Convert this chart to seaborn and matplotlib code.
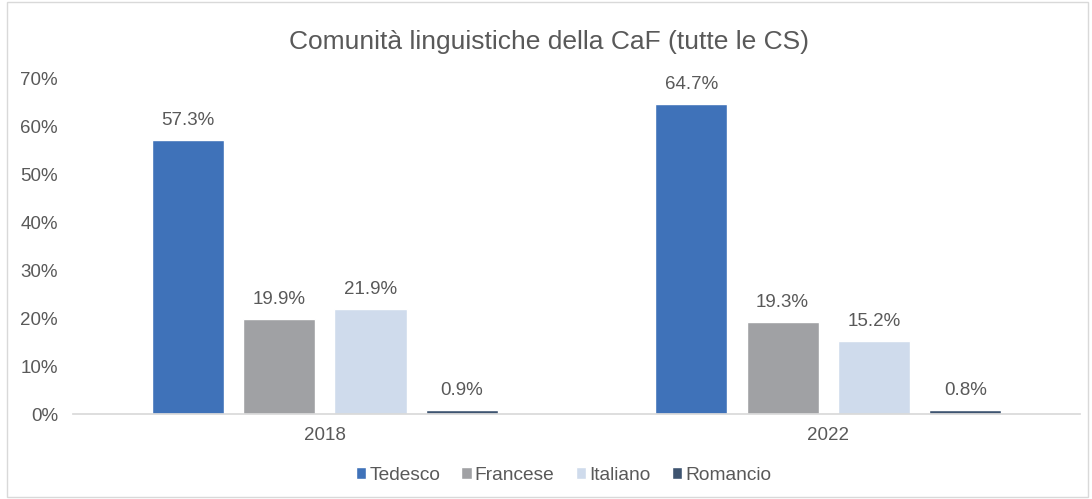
import matplotlib
matplotlib.use("Agg")
import matplotlib.pyplot as plt
import seaborn as sns
import pandas as pd
from matplotlib.ticker import PercentFormatter

years = ["2018", "2022"]
languages = ["Tedesco", "Francese", "Italiano", "Romancio"]
shares_2018 = [57.3, 19.9, 21.9, 0.9]
shares_2022 = [64.7, 19.3, 15.2, 0.8]
colors = ["#3F72B9", "#A0A1A4", "#CFDBEC", "#3E5470"]

df = pd.DataFrame({
    "anno": [years[0]] * 4 + [years[1]] * 4,
    "lingua": languages * 2,
    "quota": [v / 100 for v in shares_2018 + shares_2022],
})

sns.set_theme(style="white")
plt.rcParams["font.family"] = ["Liberation Sans", "DejaVu Sans"]
text_col = "#595959"

fig = plt.figure(figsize=(10.92, 4.99), dpi=100)
ax = fig.add_axes([0.067, 0.17, 0.922, 0.672])

sns.barplot(data=df, x="anno", y="quota", hue="lingua", hue_order=languages,
            palette=colors, width=0.726, gap=0.21, saturation=1, ax=ax, legend=True)

for cont in ax.containers:
    ax.bar_label(cont, labels=[f"{v * 100:.1f}%" for v in cont.datavalues],
                 padding=8, fontsize=13.5, color=text_col)

ax.set_ylim(0, 0.7)
ax.set_yticks([i / 10 for i in range(8)])
ax.yaxis.set_major_formatter(PercentFormatter(1.0, decimals=0))
ax.set_xlabel("")
ax.set_ylabel("")
ax.tick_params(axis="both", colors=text_col, labelsize=13.5, length=0)
ax.tick_params(axis="x", pad=9)
ax.tick_params(axis="y", pad=11)
for s in ["top", "right", "left"]:
    ax.spines[s].set_visible(False)
ax.spines["bottom"].set_color("#D9D9D9")

fig.text(0.503, 0.916, "Comunità linguistiche della CaF (tutte le CS)", fontsize=19,
         color=text_col, ha="center", va="center")

handles, labels = ax.get_legend_handles_labels()
ax.legend(handles, labels, loc="center", bbox_to_anchor=(0.516, 0.048),
          bbox_transform=fig.transFigure, ncol=4,
          frameon=False, fontsize=13.8, labelcolor=text_col, handlelength=0.55,
          handleheight=0.55, handletextpad=0.15, columnspacing=1.1)

fig.patches.append(plt.Rectangle((0.006, 0.004), 0.99, 0.992, transform=fig.transFigure,
                                 fill=False, edgecolor="#D9D9D9", linewidth=1))

fig.savefig("out.png", dpi=100, facecolor="white")
